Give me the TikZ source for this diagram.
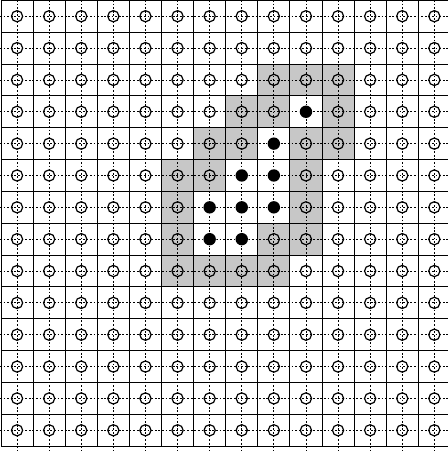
\documentclass[tikz,border=0pt]{standalone}
\tikzset{
  gridline/.style={line width=1pt, draw=black},
  axisline/.style={line width=0.8pt, draw=black, dash pattern=on 1.8pt off 1.8pt},
  ring/.style={line width=1.2pt, draw=black},
  blackdot/.style={fill=black},
  shadecell/.style={fill=black!22},
}
\begin{document}
\begin{tikzpicture}[x=1pt,y=-1pt]
\useasboundingbox (0,0) rectangle (448,451);
\clip (0,0) rectangle (448,451);
\def\cw{32.1}\def\ch{31.85}\def\ox{1}\def\oy{0.3}
% shaded cells
\foreach \i/\j in {8/2,9/2,10/2,7/3,8/3,10/3,6/4,7/4,9/4,10/4,5/5,6/5,9/5,5/6,9/6,5/7,8/7,9/7,5/8,6/8,7/8,8/8}
  \fill[shadecell] ({\ox+\cw*\i},{\oy+\ch*\j}) rectangle ++(\cw,\ch);
% grid
\foreach \k in {0,...,14} {
  \draw[gridline] ({\ox+\cw*\k},{\oy}) -- ({\ox+\cw*\k},{\oy+14*\ch});
  \draw[gridline] (\ox,{\oy+\ch*\k}) -- ({\ox+14*\cw},{\oy+\ch*\k});
}
% dashed axes
\foreach \k in {0,...,13} {
  \draw[axisline] ({\ox+\cw*(\k+0.5)},0) -- ({\ox+\cw*(\k+0.5)},451);
  \draw[axisline] (0,{\oy+\ch*(\k+0.5)}) -- (448,{\oy+\ch*(\k+0.5)});
}
% rings
\foreach \i in {0,...,13} {
  \foreach \j in {0,...,13} {
    \draw[ring] ({\ox+\cw*(\i+0.5)},{\oy+\ch*(\j+0.5)}) circle[radius=5.6];
  }
}
% filled dots
\foreach \i/\j in {9/3,8/4,7/5,8/5,6/6,7/6,8/6,6/7,7/7} {
  \fill[white] ({\ox+\cw*(\i+0.5)},{\oy+\ch*(\j+0.5)}) circle[radius=6.8];
  \fill[blackdot] ({\ox+\cw*(\i+0.5)},{\oy+\ch*(\j+0.5)}) circle[radius=6.2];
}
\end{tikzpicture}
\end{document}
